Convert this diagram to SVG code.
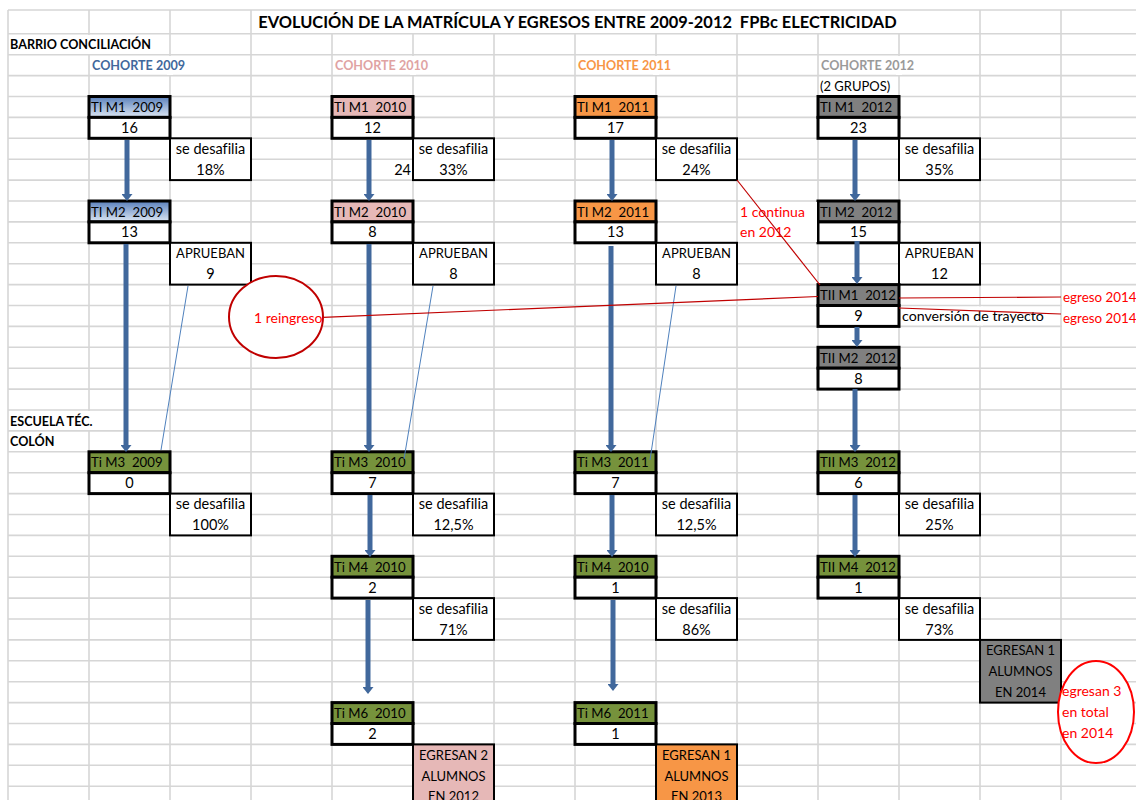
<svg xmlns="http://www.w3.org/2000/svg" width="1136" height="800" viewBox="0 0 1136 800">
<defs>
<linearGradient id="gBlue" x1="0" y1="0" x2="0" y2="1"><stop offset="0" stop-color="#5a80bb"/><stop offset="1" stop-color="#dde7f4"/></linearGradient>
<marker id="ah" viewBox="0 0 10 10" refX="0" refY="5" markerWidth="7" markerHeight="11" markerUnits="userSpaceOnUse" orient="auto" preserveAspectRatio="none"><path d="M0,0 L10,5 L0,10 z" fill="#41689c"/></marker>
<style>
text{font-family:Lato,"Liberation Sans",sans-serif;font-size:14.5px;fill:#000;white-space:pre;font-variant-ligatures:none}
.b{font-weight:bold;font-size:12.6px}
.c{text-anchor:middle}
.h{font-size:13.2px}
.u{font-size:13px}
.r{fill:#ff0000}
.hdr,.val{stroke:#000;stroke-width:3}
.val{fill:#fff}
.side{fill:#fff;stroke:#000;stroke-width:2}
.arr{stroke:#41689c;stroke-width:5;fill:none}
.thin{stroke:#4f81bd;stroke-width:1;fill:none}
.red{stroke:#c00000;stroke-width:1.2;fill:none}
.grid{stroke:#d6d6d6;stroke-width:1.6;fill:none}
</style>
</defs>
<rect width="1136" height="800" fill="#fff"/>
<g id="grid">
<path class="grid" d="M8 10H1136M8 33.8H1136M8 54.7H1136M8 75.6H1136M8 96.5H1136M8 117.4H1136M8 138.3H1136M8 159.2H1136M8 180.1H1136M8 201H1136M8 221.9H1136M8 242.8H1136M8 263.7H1136M8 284.6H1136M8 305.5H1136M8 326.4H1136M8 347.3H1136M8 368.2H1136M8 389.1H1136M8 410H1136M8 430.9H1136M8 451.8H1136M8 472.7H1136M8 493.6H1136M8 514.5H1136M8 535.4H1136M8 556.3H1136M8 577.2H1136M8 598.1H1136M8 619H1136M8 639.9H1136M8 660.8H1136M8 681.7H1136M8 702.6H1136M8 723.5H1136M8 744.4H1136M8 765.3H1136M8 786.2H1136
M8 10V800M89 10V800M170 10V800M251 10V800M332 33.8V800M413 33.8V800M494 33.8V800M575 33.8V800M656 33.8V800M737 33.8V800M818 33.8V800M899 33.8V800M980 10V800M1061 10V800"/>
<g fill="#fff">
<rect x="86" y="35" width="6" height="19"/>
<rect x="167" y="56" width="6" height="19"/><rect x="410" y="56" width="6" height="19"/><rect x="653" y="56" width="6" height="19"/><rect x="896" y="56" width="6" height="19"/>
<rect x="977" y="306.5" width="6" height="19"/>
<rect x="86" y="411" width="6" height="19"/>
</g>
</g>
<g id="labels">
<text class="b" x="577.5" y="27.5" text-anchor="middle" style="font-size:16.4px">EVOLUCIÓN DE LA MATRÍCULA Y EGRESOS ENTRE 2009-2012  FPBc ELECTRICIDAD</text>
<text class="b" x="10" y="49.3">BARRIO CONCILIACIÓN</text>
<text class="b" x="92" y="70.2" style="fill:#41689c">COHORTE 2009</text>
<text class="b" x="335" y="70.2" style="fill:#e0a3a3">COHORTE 2010</text>
<text class="b" x="578" y="70.2" style="fill:#f79646">COHORTE 2011</text>
<text class="b" x="821" y="70.2" style="fill:#9a9a9a">COHORTE 2012</text>
<text class="u" x="820" y="91.1">(2 GRUPOS)</text>
<text class="b" x="10" y="425.5">ESCUELA TÉC.</text>
<text class="b" x="10" y="446.4">COLÓN</text>
<text x="411" y="174.7" text-anchor="end">24</text>
<text x="902" y="321" style="font-size:14.2px">conversión de trayecto</text>
</g>
<!-- cohort 2009 -->
<g id="n-m1-2009"><rect class="hdr" x="89" y="96.5" width="81" height="20.9" fill="url(#gBlue)"/><rect class="val" x="89" y="117.4" width="81" height="20.9"/><text class="h" x="91" y="112">TI M1  2009</text><text class="c" x="129.5" y="132.9">16</text></g>
<g id="s-d1-2009"><rect class="side" x="170" y="138.3" width="81" height="41.8"/><text class="c" x="210.5" y="153.8">se desafilia</text><text class="c" x="210.5" y="174.7">18%</text></g>
<g id="n-m2-2009"><rect class="hdr" x="89" y="201" width="81" height="20.9" fill="url(#gBlue)"/><rect class="val" x="89" y="221.9" width="81" height="20.9"/><text class="h" x="91" y="216.5">TI M2  2009</text><text class="c" x="129.5" y="237.4">13</text></g>
<g id="s-ap-2009"><rect class="side" x="170" y="242.8" width="81" height="41.8"/><text class="c u" x="210.5" y="258.3">APRUEBAN</text><text class="c" x="210.5" y="279.2">9</text></g>
<g id="n-m3-2009"><rect class="hdr" x="89" y="451.8" width="81" height="20.9" fill="#76923c"/><rect class="val" x="89" y="472.7" width="81" height="20.9"/><text class="h" x="91" y="467.3">Ti M3  2009</text><text class="c" x="129.5" y="488.2">0</text></g>
<g id="s-d3-2009"><rect class="side" x="170" y="493.6" width="81" height="41.8"/><text class="c" x="210.5" y="509.1">se desafilia</text><text class="c" x="210.5" y="530">100%</text></g>
<!-- cohort 2010 -->
<g id="n-m1-2010"><rect class="hdr" x="332" y="96.5" width="81" height="20.9" fill="#e6b8b7"/><rect class="val" x="332" y="117.4" width="81" height="20.9"/><text class="h" x="334" y="112">TI M1  2010</text><text class="c" x="372.5" y="132.9">12</text></g>
<g id="s-d1-2010"><rect class="side" x="413" y="138.3" width="81" height="41.8"/><text class="c" x="453.5" y="153.8">se desafilia</text><text class="c" x="453.5" y="174.7">33%</text></g>
<g id="n-m2-2010"><rect class="hdr" x="332" y="201" width="81" height="20.9" fill="#e6b8b7"/><rect class="val" x="332" y="221.9" width="81" height="20.9"/><text class="h" x="334" y="216.5">TI M2  2010</text><text class="c" x="372.5" y="237.4">8</text></g>
<g id="s-ap-2010"><rect class="side" x="413" y="242.8" width="81" height="41.8"/><text class="c u" x="453.5" y="258.3">APRUEBAN</text><text class="c" x="453.5" y="279.2">8</text></g>
<g id="n-m3-2010"><rect class="hdr" x="332" y="451.8" width="81" height="20.9" fill="#76923c"/><rect class="val" x="332" y="472.7" width="81" height="20.9"/><text class="h" x="334" y="467.3">Ti M3  2010</text><text class="c" x="372.5" y="488.2">7</text></g>
<g id="s-d3-2010"><rect class="side" x="413" y="493.6" width="81" height="41.8"/><text class="c" x="453.5" y="509.1">se desafilia</text><text class="c" x="453.5" y="530">12,5%</text></g>
<g id="n-m4-2010"><rect class="hdr" x="332" y="556.3" width="81" height="20.9" fill="#76923c"/><rect class="val" x="332" y="577.2" width="81" height="20.9"/><text class="h" x="334" y="571.8">Ti M4  2010</text><text class="c" x="372.5" y="592.7">2</text></g>
<g id="s-d4-2010"><rect class="side" x="413" y="598.1" width="81" height="41.8"/><text class="c" x="453.5" y="613.6">se desafilia</text><text class="c" x="453.5" y="634.5">71%</text></g>
<g id="n-m6-2010"><rect class="hdr" x="332" y="702.6" width="81" height="20.9" fill="#76923c"/><rect class="val" x="332" y="723.5" width="81" height="20.9"/><text class="h" x="334" y="718.1">Ti M6  2010</text><text class="c" x="372.5" y="739">2</text></g>
<g id="e-2010"><rect class="side" x="413" y="744.4" width="81" height="70" style="fill:#e6b8b7"/><text class="c u" x="453.5" y="759.9">EGRESAN 2</text><text class="c u" x="453.5" y="780.8">ALUMNOS</text><text class="c u" x="453.5" y="800.5">EN 2012</text></g>
<!-- cohort 2011 -->
<g id="n-m1-2011"><rect class="hdr" x="575" y="96.5" width="81" height="20.9" fill="#f79646"/><rect class="val" x="575" y="117.4" width="81" height="20.9"/><text class="h" x="577" y="112">TI M1  2011</text><text class="c" x="615.5" y="132.9">17</text></g>
<g id="s-d1-2011"><rect class="side" x="656" y="138.3" width="81" height="41.8"/><text class="c" x="696.5" y="153.8">se desafilia</text><text class="c" x="696.5" y="174.7">24%</text></g>
<g id="n-m2-2011"><rect class="hdr" x="575" y="201" width="81" height="20.9" fill="#f79646"/><rect class="val" x="575" y="221.9" width="81" height="20.9"/><text class="h" x="577" y="216.5">TI M2  2011</text><text class="c" x="615.5" y="237.4">13</text></g>
<g id="s-ap-2011"><rect class="side" x="656" y="242.8" width="81" height="41.8"/><text class="c u" x="696.5" y="258.3">APRUEBAN</text><text class="c" x="696.5" y="279.2">8</text></g>
<g id="n-m3-2011"><rect class="hdr" x="575" y="451.8" width="81" height="20.9" fill="#76923c"/><rect class="val" x="575" y="472.7" width="81" height="20.9"/><text class="h" x="577" y="467.3">Ti M3  2011</text><text class="c" x="615.5" y="488.2">7</text></g>
<g id="s-d3-2011"><rect class="side" x="656" y="493.6" width="81" height="41.8"/><text class="c" x="696.5" y="509.1">se desafilia</text><text class="c" x="696.5" y="530">12,5%</text></g>
<g id="n-m4-2011"><rect class="hdr" x="575" y="556.3" width="81" height="20.9" fill="#76923c"/><rect class="val" x="575" y="577.2" width="81" height="20.9"/><text class="h" x="577" y="571.8">Ti M4  2010</text><text class="c" x="615.5" y="592.7">1</text></g>
<g id="s-d4-2011"><rect class="side" x="656" y="598.1" width="81" height="41.8"/><text class="c" x="696.5" y="613.6">se desafilia</text><text class="c" x="696.5" y="634.5">86%</text></g>
<g id="n-m6-2011"><rect class="hdr" x="575" y="702.6" width="81" height="20.9" fill="#76923c"/><rect class="val" x="575" y="723.5" width="81" height="20.9"/><text class="h" x="577" y="718.1">Ti M6  2011</text><text class="c" x="615.5" y="739">1</text></g>
<g id="e-2011"><rect class="side" x="656" y="744.4" width="81" height="70" style="fill:#f79646"/><text class="c u" x="696.5" y="759.9">EGRESAN 1</text><text class="c u" x="696.5" y="780.8">ALUMNOS</text><text class="c u" x="696.5" y="800.5">EN 2013</text></g>
<!-- cohort 2012 -->
<g id="n-m1-2012"><rect class="hdr" x="818" y="96.5" width="81" height="20.9" fill="#808080"/><rect class="val" x="818" y="117.4" width="81" height="20.9"/><text class="h" x="820" y="112">TI M1  2012</text><text class="c" x="858.5" y="132.9">23</text></g>
<g id="s-d1-2012"><rect class="side" x="899" y="138.3" width="81" height="41.8"/><text class="c" x="939.5" y="153.8">se desafilia</text><text class="c" x="939.5" y="174.7">35%</text></g>
<g id="n-m2-2012"><rect class="hdr" x="818" y="201" width="81" height="20.9" fill="#808080"/><rect class="val" x="818" y="221.9" width="81" height="20.9"/><text class="h" x="820" y="216.5">TI M2  2012</text><text class="c" x="858.5" y="237.4">15</text></g>
<g id="s-ap-2012"><rect class="side" x="899" y="242.8" width="81" height="41.8"/><text class="c u" x="939.5" y="258.3">APRUEBAN</text><text class="c" x="939.5" y="279.2">12</text></g>
<g id="n-tii-m1-2012"><rect class="hdr" x="818" y="284.6" width="81" height="20.9" fill="#808080"/><rect class="val" x="818" y="305.5" width="81" height="20.9"/><text class="h" x="820" y="300.1">TII M1  2012</text><text class="c" x="858.5" y="321">9</text></g>
<g id="n-tii-m2-2012"><rect class="hdr" x="818" y="347.3" width="81" height="20.9" fill="#808080"/><rect class="val" x="818" y="368.2" width="81" height="20.9"/><text class="h" x="820" y="362.8">TII M2  2012</text><text class="c" x="858.5" y="383.7">8</text></g>
<g id="n-tii-m3-2012"><rect class="hdr" x="818" y="451.8" width="81" height="20.9" fill="#76923c"/><rect class="val" x="818" y="472.7" width="81" height="20.9"/><text class="h" x="820" y="467.3">TII M3  2012</text><text class="c" x="858.5" y="488.2">6</text></g>
<g id="s-d3-2012"><rect class="side" x="899" y="493.6" width="81" height="41.8"/><text class="c" x="939.5" y="509.1">se desafilia</text><text class="c" x="939.5" y="530">25%</text></g>
<g id="n-tii-m4-2012"><rect class="hdr" x="818" y="556.3" width="81" height="20.9" fill="#76923c"/><rect class="val" x="818" y="577.2" width="81" height="20.9"/><text class="h" x="820" y="571.8">TII M4  2012</text><text class="c" x="858.5" y="592.7">1</text></g>
<g id="s-d4-2012"><rect class="side" x="899" y="598.1" width="81" height="41.8"/><text class="c" x="939.5" y="613.6">se desafilia</text><text class="c" x="939.5" y="634.5">73%</text></g>
<g id="e-2012"><rect class="side" x="980" y="639.9" width="81" height="62.7" style="fill:#808080"/><text class="c u" x="1020.5" y="655.4">EGRESAN 1</text><text class="c u" x="1020.5" y="676.3">ALUMNOS</text><text class="c u" x="1020.5" y="697.2">EN 2014</text></g>
<!-- annotations -->
<g id="a-continua"><rect x="738" y="202" width="79" height="40" fill="#fff"/><text class="r" x="740" y="216.5" style="font-size:14px">1 continua</text><text class="r" x="740" y="237.4" style="font-size:14px">en 2012</text></g>
<g id="a-reingreso"><ellipse cx="276" cy="317" rx="47" ry="41" fill="#fff" stroke="#c00000" stroke-width="2"/><text class="r" x="254" y="322.5" style="font-size:14px">1 reingreso</text></g>
<g id="a-egreso"><rect x="1062" y="287" width="74" height="41" fill="#fff"/><text class="r" x="1063" y="302" style="font-size:13.4px">egreso 2014</text><text class="r" x="1063" y="323" style="font-size:13.4px">egreso 2014</text></g>
<g id="a-total"><ellipse cx="1096" cy="712" rx="38" ry="51" fill="#fff" stroke="#ff0000" stroke-width="2"/><text class="r" x="1062" y="696" style="font-size:14px">egresan 3</text><text class="r" x="1062" y="717" style="font-size:14px">en total</text><text class="r" x="1062" y="738" style="font-size:14px">en 2014</text></g>
<g id="connectors">
<line class="arr" x1="127" y1="140" x2="127" y2="194" marker-end="url(#ah)"/>
<line class="arr" x1="126" y1="244" x2="126" y2="445" marker-end="url(#ah)"/>
<line class="arr" x1="369" y1="140" x2="369" y2="194" marker-end="url(#ah)"/>
<line class="arr" x1="369" y1="244" x2="369" y2="445" marker-end="url(#ah)"/>
<line class="arr" x1="370" y1="495" x2="370" y2="550" marker-end="url(#ah)"/>
<line class="arr" x1="368" y1="600" x2="368" y2="687" marker-end="url(#ah)"/>
<line class="arr" x1="612" y1="140" x2="612" y2="194" marker-end="url(#ah)"/>
<line class="arr" x1="611" y1="246" x2="611" y2="445" marker-end="url(#ah)"/>
<line class="arr" x1="612" y1="495" x2="612" y2="550" marker-end="url(#ah)"/>
<line class="arr" x1="613" y1="600" x2="613" y2="684" marker-end="url(#ah)"/>
<line class="arr" x1="855" y1="140" x2="855" y2="194" marker-end="url(#ah)"/>
<line class="arr" x1="857" y1="241" x2="857" y2="277" marker-end="url(#ah)"/>
<line class="arr" x1="857" y1="327" x2="857" y2="340" marker-end="url(#ah)"/>
<line class="arr" x1="855" y1="389" x2="855" y2="445" marker-end="url(#ah)"/>
<line class="arr" x1="855" y1="495" x2="855" y2="550" marker-end="url(#ah)"/>
<line class="thin" x1="188" y1="286" x2="161" y2="450"/>
<line class="thin" x1="433" y1="286" x2="404" y2="459"/>
<line class="thin" x1="676" y1="286" x2="650" y2="460"/>
<line class="red" x1="323" y1="317.4" x2="818" y2="296.5"/>
<line class="red" x1="737" y1="180" x2="820" y2="285"/>
<line class="red" x1="899" y1="298" x2="1061" y2="297"/>
<line class="red" x1="899" y1="308" x2="1061" y2="314"/>
</g>
</svg>
